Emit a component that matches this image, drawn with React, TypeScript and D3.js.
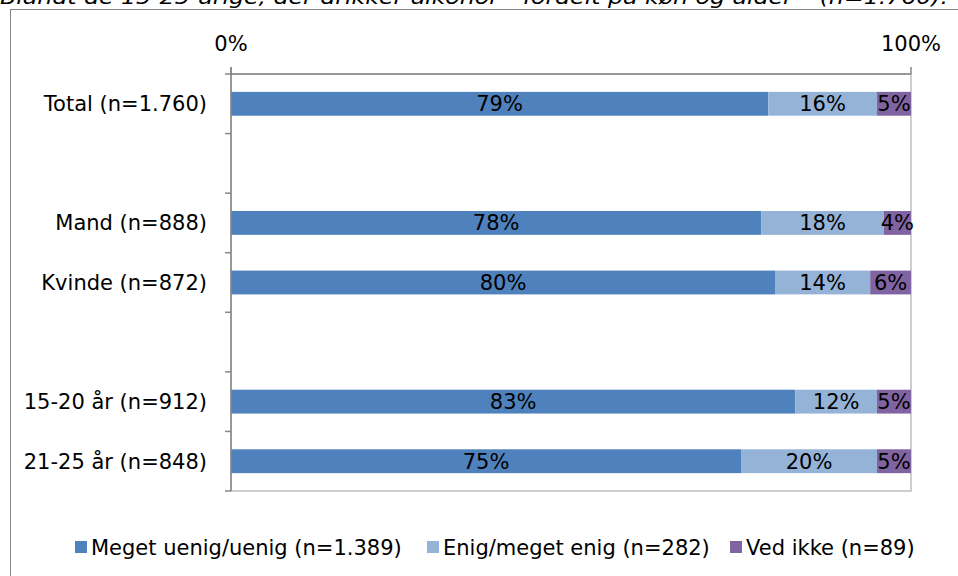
import React from "react";
import * as d3 from "d3";

const categories = ["Total (n=1.760)", "", "Mand (n=888)", "Kvinde (n=872)", " ", "15-20 år (n=912)", "21-25 år (n=848)"];
const seriesNames = ["Meget uenig/uenig (n=1.389)", "Enig/meget enig (n=282)", "Ved ikke (n=89)"];
const uenig = [79, null, 78, 80, null, 83, 75];
const enig = [16, null, 18, 14, null, 12, 20];
const vedIkke = [5, null, 4, 6, null, 5, 5];
const xTicks = [0, 100];
const title = "Blandt de 15-25-årige, der drikker alkohol – fordelt på køn og alder – (n=1.760).";

const colors = ["#4f81bd", "#95b3d7", "#8064a2"];
const FONT = "'DejaVu Sans', 'Open Sans', sans-serif";

export default function App() {
  const W = 958, H = 576;
  const left = 231, right = 911, top = 74, bottom = 491;
  const x = d3.scaleLinear().domain([0, 100]).range([left, right]);
  const y = d3.scaleBand<number>().domain(d3.range(categories.length)).range([top, bottom]).paddingInner(0.6).paddingOuter(0.3);
  const yb = d3.scaleBand<number>().domain(d3.range(categories.length)).range([top, bottom]);
  const series = [uenig, enig, vedIkke];
  const stacks = categories.map((_, i) => {
    let acc = 0;
    return series.map((s, k) => {
      const v = s[i];
      if (v == null) return null;
      const seg = { x0: acc, x1: acc + v, v, k };
      acc += v;
      return seg;
    });
  });
  const legendX = [75, 427, 730];
  const boundaries = d3.range(categories.length + 1).map((i) => (i < categories.length ? yb(i)! : bottom));
  const fs = 21;

  return (
    <svg width={W} height={H} style={{ position: "absolute", left: 0, top: 0, background: "#fff" }} fontFamily={FONT}>
      <text x={0} y={4} fontSize={20} fontStyle="italic" fill="#000" textLength={948} lengthAdjust="spacingAndGlyphs">{title}</text>
      <rect x={10.5} y={9.5} width={960} height={600} fill="#fff" stroke="#868686" strokeWidth={1} />
      {/* plot area border */}
      <rect x={left} y={top} width={right - left} height={bottom - top} fill="none" stroke="#bfbfbf" strokeWidth={1.5} />
      {/* bars */}
      {stacks.map((segs, i) =>
        segs.map((s) =>
          s ? (
            <g key={`${i}-${s.k}`}>
              <rect x={x(s.x0)} y={y(i)} width={x(s.x1) - x(s.x0)} height={y.bandwidth()} fill={colors[s.k]} />
              <text x={(x(s.x0) + x(s.x1)) / 2} y={y(i)! + y.bandwidth() / 2} dy="0.36em" textAnchor="middle" fontSize={fs} fill="#000">
                {`${s.v}%`}
              </text>
            </g>
          ) : null
        )
      )}
      {/* top axis */}
      <line x1={left} x2={right} y1={top} y2={top} stroke="#868686" strokeWidth={1.5} />
      {xTicks.map((t) => (
        <g key={t}>
          <line x1={x(t)} x2={x(t)} y1={top - 7} y2={top} stroke="#868686" strokeWidth={1.5} />
          <text x={x(t)} y={43} dy="0.36em" textAnchor="middle" fontSize={fs} fill="#000">{`${t}%`}</text>
        </g>
      ))}
      {/* left axis */}
      <line x1={left} x2={left} y1={top - 7} y2={bottom} stroke="#868686" strokeWidth={1.5} />
      {boundaries.map((b, i) => (
        <line key={i} x1={left - 6} x2={left} y1={b} y2={b} stroke="#868686" strokeWidth={1.5} />
      ))}
      {categories.map((c, i) => (
        <text key={i} x={207} y={yb(i)! + yb.bandwidth() / 2} dy="0.36em" textAnchor="end" fontSize={fs} fill="#000">
          {c.trim()}
        </text>
      ))}
      {/* legend */}
      {seriesNames.map((n, k) => (
        <g key={n}>
          <rect x={legendX[k]} y={541} width={12} height={12} fill={colors[k]} />
          <text x={legendX[k] + 16} y={547} dy="0.36em" fontSize={fs} fill="#000">{n}</text>
        </g>
      ))}
    </svg>
  );
}
